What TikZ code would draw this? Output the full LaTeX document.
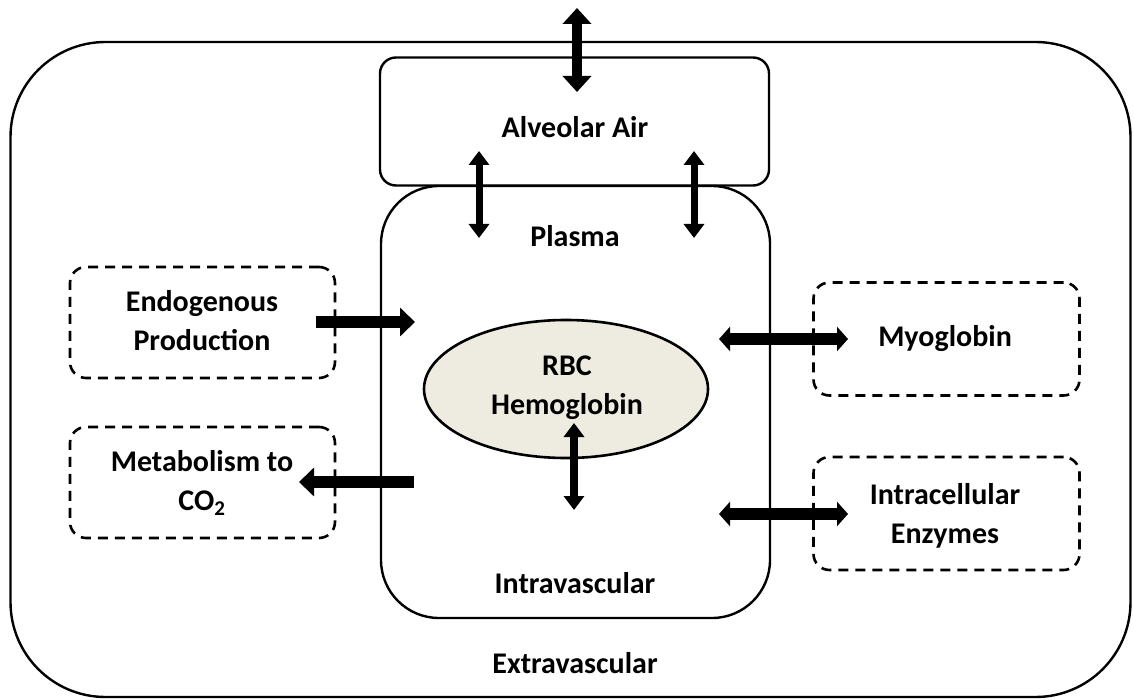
\documentclass[tikz,border=0pt]{standalone}
\usepackage{fontspec}
\setmainfont{Carlito}
\usetikzlibrary{arrows.meta,shapes.geometric}
\definecolor{rbcfill}{HTML}{EEECE1}
\tikzset{
  solidbox/.style={draw=black, line width=2.4pt, inner sep=0pt},
  dashbox/.style={draw=black, line width=2.6pt, dash pattern=on 10pt off 7pt, rounded corners=16pt, inner sep=0pt, minimum width=265pt, minimum height=111pt, align=center},
  lbl/.style={font=\fontsize{30}{39}\selectfont\bfseries, text=black, align=center, inner sep=0pt},
  bigarrow/.style={line width=10pt, {Triangle[width=28pt,length=16pt]}-{Triangle[width=28pt,length=16pt]}},
  midarrow/.style={line width=7pt, {Triangle[width=20pt,length=14pt]}-{Triangle[width=20pt,length=14pt]}},
  harrow/.style={line width=12pt, {Triangle[width=24pt,length=11pt]}-{Triangle[width=24pt,length=11pt]}},
  onearrow/.style={line width=12pt, -{Triangle[width=28pt,length=15pt]}},
}
\begin{document}
\begin{tikzpicture}[x=1pt,y=-1pt]
\useasboundingbox (0,0) rectangle (1134,700);
% outer compartment
\node[solidbox, rounded corners=95pt, minimum width=1120pt, minimum height=655pt] (outer) at (570.5,369.5) {};
% alveolar air
\node[solidbox, rounded corners=16pt, minimum width=389pt, minimum height=128pt] (alv) at (574.5,121.5) {};
% plasma / intravascular
\node[solidbox, rounded corners=58pt, minimum width=389pt, minimum height=432pt] (plasma) at (575.5,402) {};
% RBC
\node[draw=black, line width=2.6pt, fill=rbcfill, ellipse, minimum width=284pt, minimum height=138pt, inner sep=0pt] (rbc) at (566,389) {};
% dashed boxes
\node[dashbox] (endo) at (202.5,322.5) {};
\node[dashbox] (meta) at (202.5,482.5) {};
\node[dashbox, minimum width=266pt, minimum height=113pt] (myo) at (946.5,339) {};
\node[dashbox, minimum width=266pt, minimum height=113pt] (enz) at (946.5,513.5) {};
% labels
\node[lbl] (talv) at (575,127) {Alveolar Air};
\node[lbl] (tplasma) at (575,236) {Plasma};
\node[lbl] (trbc) at (567,388) {RBC\\Hemoglobin};
\node[lbl] (tintra) at (575,583) {Intravascular};
\node[lbl] (textra) at (575,663) {Extravascular};
\node[lbl] (tendo) at (202,321) {Endogenous\\Production};
\node[lbl] (tmeta) at (202,483) {Metabolism to\\CO\textsubscript{2}};
\node[lbl] (tmyo) at (945,339) {Myoglobin};
\node[lbl] (tenz) at (945,516) {Intracellular\\Enzymes};
% arrow end points
\coordinate (a1) at (577,8);   \coordinate (a2) at (577,92);
\coordinate (b1) at (479,151); \coordinate (b2) at (479,238);
\coordinate (c1) at (694,151); \coordinate (c2) at (694,238);
\coordinate (d1) at (574,423); \coordinate (d2) at (574,510);
\coordinate (e1) at (316,322); \coordinate (e2) at (415,322);
\coordinate (f1) at (414,482); \coordinate (f2) at (299,482);
\coordinate (g1) at (719,339); \coordinate (g2) at (848,339);
\coordinate (h1) at (719,514); \coordinate (h2) at (848,514);
% arrows
\draw[bigarrow] (a1) -- (a2);
\draw[midarrow] (b1) -- (b2);
\draw[midarrow] (c1) -- (c2);
\draw[midarrow, line width=8pt] (d1) -- (d2);
\draw[onearrow] (e1) -- (e2);
\draw[onearrow] (f1) -- (f2);
\draw[harrow] (g1) -- (g2);
\draw[harrow] (h1) -- (h2);
\end{tikzpicture}
\end{document}
